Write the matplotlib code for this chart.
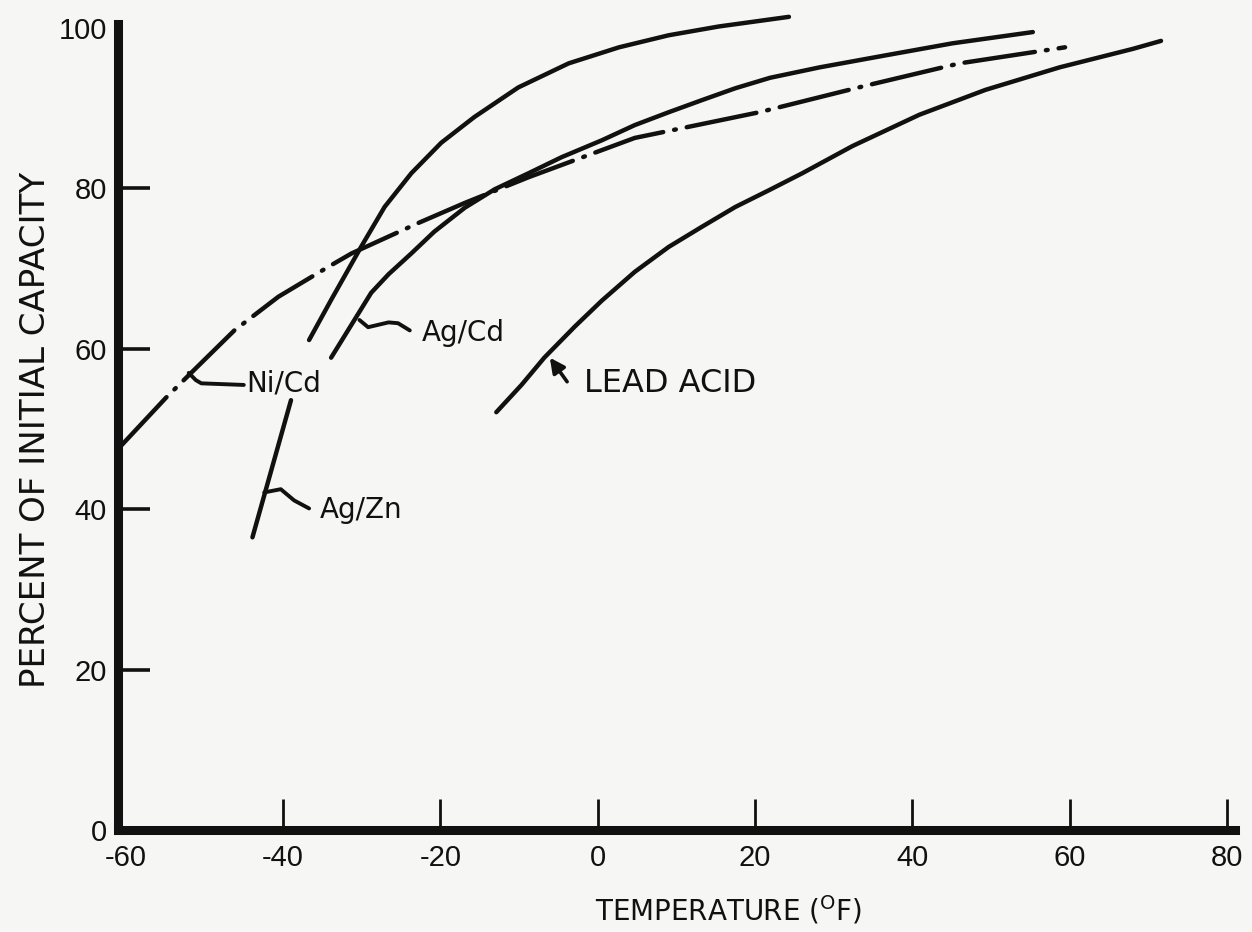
import matplotlib
matplotlib.use("Agg")
import matplotlib.pyplot as plt

plt.rcParams["font.family"] = ["DejaVu Sans"]

# Capacity retention versus temperature for four battery chemistries
agzn_temp = [-43.9, -39.0, float("nan"), -36.7, -33.9, -30.1, -27.1, -23.7,
             -19.9, -15.7, -10.1, -3.7, 2.7, 9.0, 15.4, 24.3]
agzn_pct = [36.5, 53.6, float("nan"), 61.1, 66.1, 72.7, 77.7, 81.9,
            85.7, 88.9, 92.6, 95.6, 97.6, 99.1, 100.2, 101.4]

agcd_temp = [-33.9, -28.8, -26.6, -23.7, -20.8, -16.9, -13.1, -8.8, -4.6,
             0.5, 4.7, 9.0, 13.2, 17.5, 21.9, 28.2, 36.6, 45.1, 55.3]
agcd_pct = [58.9, 67.0, 69.3, 71.9, 74.6, 77.6, 79.9, 81.9, 83.9,
            86.0, 87.9, 89.5, 91.0, 92.5, 93.8, 95.1, 96.6, 98.1, 99.5]

nicd_temp = [-61.0, -54.9, -51.7, -46.2, -40.6, -34.3, -31.3, -22.8,
             -16.9, -8.8, 4.7, 20.5, 34.0, 46.0, 59.4]
nicd_pct = [47.5, 53.9, 57.0, 62.3, 66.5, 70.2, 71.9, 75.7,
            78.2, 81.4, 86.3, 89.5, 92.8, 95.6, 97.6]

lead_temp = [-12.9, -9.7, -6.8, -2.9, 0.5, 4.7, 9.0, 13.2, 17.5, 21.8,
             26.0, 32.4, 40.9, 49.3, 58.7, 68.0, 71.6]
lead_pct = [52.1, 55.5, 58.9, 62.8, 66.0, 69.6, 72.7, 75.2, 77.7, 79.8,
            81.9, 85.3, 89.2, 92.3, 95.1, 97.4, 98.4]

x_ticks = [-60, -40, -20, 0, 20, 40, 60, 80]
y_ticks = [0, 20, 40, 60, 80, 100]

ink = "#111111"
paper = "#f6f6f4"

fig = plt.figure(figsize=(12.52, 9.32), dpi=100, facecolor=paper)
ax = fig.add_axes([0.0942, 0.1094, 0.8922, 0.882])
ax.set_facecolor(paper)

ax.set_xlim(-61, 81)
ax.set_ylim(0, 102.5)

line_kw = dict(color=ink, lw=3.2, solid_capstyle="round", dash_capstyle="round",
               solid_joinstyle="round")
ax.plot(agzn_temp, agzn_pct, **line_kw)
ax.plot(agcd_temp, agcd_pct, **line_kw)
ax.plot(lead_temp, lead_pct, **line_kw)
ax.plot(nicd_temp, nicd_pct, linestyle=(0, (16, 2.5, 0.4, 2.5)), **line_kw)

# Axes frame: heavy left and bottom rules only
for side in ("top", "right"):
    ax.spines[side].set_visible(False)
for side in ("left", "bottom"):
    ax.spines[side].set_linewidth(6.5)
    ax.spines[side].set_color(ink)
ax.spines["left"].set_bounds(0, 100.5)
ax.spines["bottom"].set_bounds(-61, 81)

tick_font = dict(family=["Liberation Sans", "DejaVu Sans"], size=21)
ax.set_xticks(x_ticks)
ax.set_yticks(y_ticks)
ax.set_xticklabels([str(v) for v in x_ticks], fontdict=tick_font)
ax.set_yticklabels([str(v) for v in y_ticks], fontdict=tick_font)
ax.tick_params(axis="x", direction="in", length=22, width=2.0, color=ink,
               pad=10, labelcolor=ink)
ax.tick_params(axis="y", direction="in", length=23, width=2.6, color=ink,
               pad=8, labelcolor=ink)
ax.xaxis.get_major_ticks()[0].tick1line.set_visible(False)
ax.yaxis.get_major_ticks()[0].tick1line.set_visible(False)
ax.yaxis.get_major_ticks()[-1].tick1line.set_visible(False)

fig.text(0.028, 0.539, "PERCENT OF INITIAL CAPACITY", rotation=90,
         ha="center", va="center", fontsize=24.5, color=ink)
fig.text(0.582, 0.024, r"TEMPERATURE ($^{\mathregular{O}}$F)",
         ha="center", va="center", fontsize=20, color=ink)

# Curve labels with hand-drawn style leaders
lbl_kw = dict(fontsize=20, color=ink, va="center", ha="left")
lead_kw = dict(color=ink, lw=2.8, solid_capstyle="round", solid_joinstyle="round")

ax.plot([-30.3, -29.2, -26.6, -25.4, -23.9], [63.6, 62.7, 63.3, 63.2, 62.3], **lead_kw)
ax.text(-22.4, 62.0, "Ag/Cd", **lbl_kw)

ax.plot([-52.0, -51.1, -50.4, -45.0], [57.0, 56.1, 55.7, 55.5], **lead_kw)
ax.text(-44.7, 55.7, "Ni/Cd", **lbl_kw)

ax.plot([-42.4, -40.3, -38.6, -36.7], [42.1, 42.5, 41.1, 40.1], **lead_kw)
ax.text(-35.4, 39.9, "Ag/Zn", **lbl_kw)

ax.annotate("", xy=(-6.1, 58.9), xytext=(-3.9, 55.9),
            arrowprops=dict(arrowstyle="-|>", color=ink, lw=2.6,
                            mutation_scale=22, shrinkA=0, shrinkB=0))
ax.text(-1.7, 55.7, "LEAD ACID", fontsize=23, color=ink, va="center", ha="left")

fig.savefig("out.png", dpi=100, facecolor=paper)
